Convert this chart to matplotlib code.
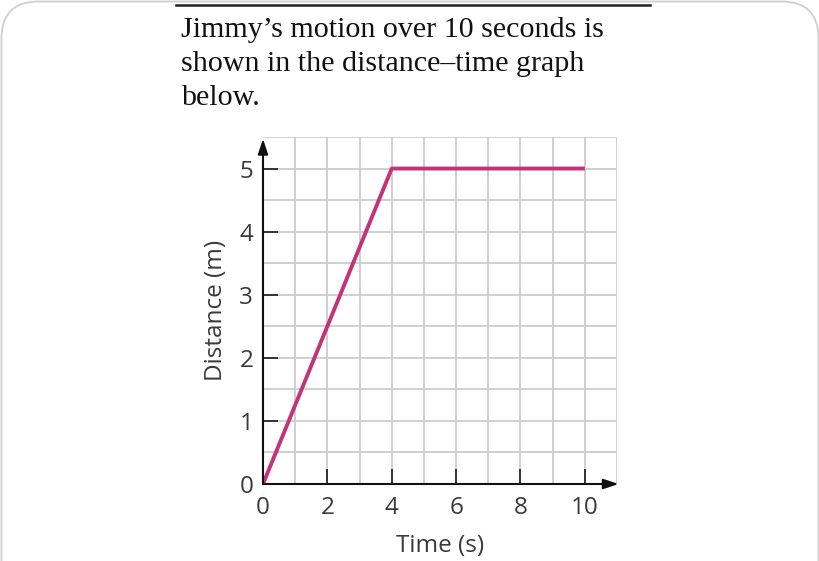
import matplotlib
matplotlib.use("Agg")
import matplotlib.pyplot as plt
from matplotlib.patches import FancyBboxPatch
from matplotlib.lines import Line2D

# Data
time_s = [0, 4, 10]
distance_m = [0, 5, 5]
x_ticks = [0, 2, 4, 6, 8, 10]
y_ticks = [0, 1, 2, 3, 4, 5]
title_lines = ["Jimmy\u2019s motion over 10 seconds is",
               "shown in the distance\u2013time graph",
               "below."]
x_label = "Time (s)"
y_label = "Distance (m)"

W, H = 820, 561
fig = plt.figure(figsize=(W / 100, H / 100), dpi=100)
fig.patch.set_facecolor("white")

# Card border
card = FancyBboxPatch((1.5 / W, -0.2), (W - 3) / W, 1.2 - 1.5 / H,
                      boxstyle="round,pad=0,rounding_size=0.045",
                      transform=fig.transFigure, facecolor="white",
                      edgecolor="#cfcfcf", linewidth=1.3,
                      mutation_aspect=W / H, zorder=-10)
fig.patches.append(card)

# Top rule
fig.add_artist(Line2D([176 / W, 650 / W], [1 - 5 / H, 1 - 5 / H],
                      color="#222222", linewidth=1.8,
                      transform=fig.transFigure))

# Title text
for i, line in enumerate(title_lines):
    fig.text(181 / W, 1 - (37 + 34 * i) / H, line,
             family="Liberation Serif", fontsize=21.6, color="#111111",
             ha="left", va="baseline")

ax = fig.add_axes([263 / W, 77 / H, 354 / W, 347 / H])
ax.set_zorder(5)
ax.set_xlim(0, 11)
ax.set_ylim(0, 5.5)

grid_c = "#cfcfcf"
for gx in range(1, 12):
    ax.axvline(gx, color=grid_c, linewidth=1.4, zorder=1)
for k in range(1, 12):
    ax.axhline(k * 0.5, color=grid_c, linewidth=1.4, zorder=1)

for s in ax.spines.values():
    s.set_visible(False)

axis_c = "#333333"
ax.annotate("", xy=(11.05, 0), xytext=(0, 0),
            arrowprops=dict(arrowstyle="-|>,head_length=0.9,head_width=0.3",
                            color="#111111", lw=1.5, shrinkA=0, shrinkB=0),
            annotation_clip=False, zorder=4)
ax.annotate("", xy=(0, 5.47), xytext=(0, 0),
            arrowprops=dict(arrowstyle="-|>,head_length=0.9,head_width=0.3",
                            color="#111111", lw=1.5, shrinkA=0, shrinkB=0),
            annotation_clip=False, zorder=4)

ax.plot(time_s, distance_m, color="#c3337a", linewidth=2.8,
        solid_capstyle="butt", zorder=3)

ax.set_xticks(x_ticks)
ax.set_yticks(y_ticks)
ax.tick_params(axis="both", direction="in", length=10.5, width=1.4,
               color=axis_c, labelcolor="#3a3a3a", labelsize=17.5)
ax.tick_params(axis="x", pad=8.5)
ax.tick_params(axis="y", pad=7)
for lab in ax.get_xticklabels() + ax.get_yticklabels():
    lab.set_family("Open Sans")

ax.set_xlabel(x_label, family="Open Sans", fontsize=17.5, color="#3a3a3a",
              labelpad=10)
ax.set_ylabel(y_label, family="Open Sans", fontsize=17.5, color="#3a3a3a",
              labelpad=8)
ax.set_facecolor("white")

fig.savefig("out.png", dpi=100, facecolor="white")
